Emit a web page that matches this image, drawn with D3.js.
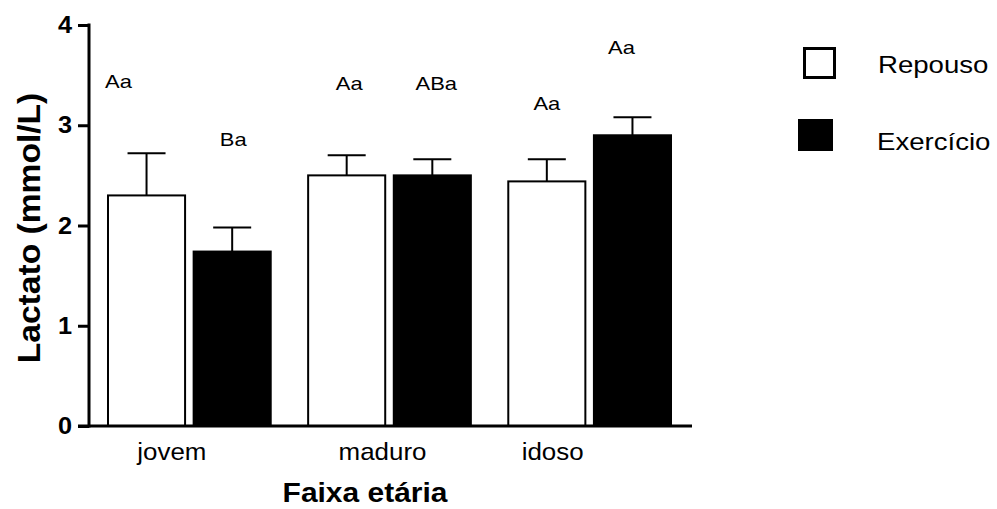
<!DOCTYPE html>
<html>
<head>
<meta charset="utf-8">
<script src="https://cdn.jsdelivr.net/npm/d3@7"></script>
<style>
  html, body { margin: 0; padding: 0; background: #fff; }
  svg { display: block; }
  text { font-family: "Liberation Sans", Arial, sans-serif; fill: #000; }
</style>
</head>
<body>
<svg id="chart" width="997" height="509"></svg>
<script>
// Lactate (mmol/L) by age group, rest vs exercise (mean + upper SEM)
const categories = ["jovem", "maduro", "idoso"];
const seriesNames = ["Repouso", "Exercício"];
const repouso = [2.30, 2.50, 2.44];
const repousoErr = [0.42, 0.20, 0.22];
const exercicio = [1.74, 2.50, 2.90];
const exercicioErr = [0.24, 0.16, 0.18];
const repousoLetters = ["Aa", "Aa", "Aa"];
const exercicioLetters = ["Ba", "ABa", "Aa"];
const yTicks = [0, 1, 2, 3, 4];

const svg = d3.select("#chart");

const y = d3.scaleLinear().domain([0, 4]).range([426, 25]);
const x0 = d3.scaleBand().domain(categories).range([108, 671]).paddingInner(0.187).paddingOuter(0);
const x1 = d3.scaleBand().domain(seriesNames).range([0, x0.bandwidth()]).paddingInner(0.1);

const fills = { "Repouso": "#fff", "Exercício": "#000" };

// text helper with a slight horizontal stretch
function label(parent, str, x, yPos, size, opts = {}) {
  const g = parent.append("g")
    .attr("transform", `translate(${x},${yPos}) rotate(${opts.rotate || 0}) scale(${opts.sx || 1},1)`);
  g.append("text")
    .attr("text-anchor", opts.anchor || "middle")
    .attr("dominant-baseline", opts.baseline || "alphabetic")
    .style("font-size", size + "px")
    .style("font-weight", opts.bold ? "bold" : "normal")
    .text(str);
  return g;
}

// rows of per-bar records
const rows = [];
categories.forEach((c, i) => {
  rows.push({ cat: c, s: "Repouso", v: repouso[i], e: repousoErr[i], lab: repousoLetters[i], i });
  rows.push({ cat: c, s: "Exercício", v: exercicio[i], e: exercicioErr[i], lab: exercicioLetters[i], i });
});

// bars
const bars = svg.append("g");
bars.selectAll("rect").data(rows).enter().append("rect")
  .attr("x", d => x0(d.cat) + x1(d.s))
  .attr("y", d => y(d.v))
  .attr("width", x1.bandwidth())
  .attr("height", d => y(0) - y(d.v))
  .attr("fill", d => fills[d.s])
  .attr("stroke", "#000")
  .attr("stroke-width", 2);

// upper error bars
const capHalf = 19;
const err = svg.append("g").attr("stroke", "#000").attr("stroke-width", 2);
rows.forEach(d => {
  const cx = x0(d.cat) + x1(d.s) + x1.bandwidth() / 2;
  err.append("line").attr("x1", cx).attr("x2", cx).attr("y1", y(d.v)).attr("y2", y(d.v + d.e));
  err.append("line").attr("x1", cx - capHalf).attr("x2", cx + capHalf).attr("y1", y(d.v + d.e)).attr("y2", y(d.v + d.e));
});

// significance letters, placed above each bar
const letterLayout = {
  "jovem|Repouso": [-28, 3.37], "jovem|Exercício": [1, 2.79],
  "maduro|Repouso": [2.5, 3.35], "maduro|Exercício": [4, 3.35],
  "idoso|Repouso": [0, 3.15], "idoso|Exercício": [-11, 3.71]
};
rows.forEach(d => {
  const cx = x0(d.cat) + x1(d.s) + x1.bandwidth() / 2;
  const [dx, ly] = letterLayout[d.cat + "|" + d.s];
  label(svg, d.lab, cx + dx, y(ly), 18, { sx: 1.22 });
});

// y axis
const yAxisG = svg.append("g").attr("transform", "translate(89,0)");
yAxisG.call(d3.axisLeft(y).tickValues(yTicks).tickSize(11).tickFormat(""));
yAxisG.select(".domain").remove();
yAxisG.selectAll(".tick line").attr("stroke", "#000").attr("stroke-width", 3);
yAxisG.append("line").attr("x1", 0).attr("x2", 0).attr("y1", y(4) - 1.5).attr("y2", y(0) + 1.5)
  .attr("stroke", "#000").attr("stroke-width", 3);
yTicks.forEach(t => {
  label(svg, String(t), 72, y(t), 23, { anchor: "end", baseline: "central", bold: true, sx: 1.1 });
});

// x axis line
svg.append("line").attr("x1", 78).attr("x2", 692).attr("y1", y(0)).attr("y2", y(0))
  .attr("stroke", "#000").attr("stroke-width", 3);

// category labels
const catShift = { "jovem": -17.5, "maduro": -7, "idoso": -37 };
categories.forEach(c => {
  label(svg, c, x0(c) + x0.bandwidth() / 2 + catShift[c], 460, 24, { sx: 1.08 });
});

// axis titles
label(svg, "Faixa etária", 365, 502, 28, { bold: true, sx: 1.07 });
label(svg, "Lactato (mmol/L)", 39.5, 228, 32, { bold: true, rotate: -90, sx: 1.05 });

// legend
const legend = svg.append("g");
legend.append("rect").attr("x", 804.5).attr("y", 48.5).attr("width", 30).attr("height", 29)
  .attr("fill", "#fff").attr("stroke", "#000").attr("stroke-width", 3);
legend.append("rect").attr("x", 798).attr("y", 119).attr("width", 35).attr("height", 32)
  .attr("fill", "#000");
label(legend, seriesNames[0], 878, 73, 23, { anchor: "start", sx: 1.2 });
label(legend, seriesNames[1], 877, 150, 23, { anchor: "start", sx: 1.2 });
</script>
</body>
</html>
